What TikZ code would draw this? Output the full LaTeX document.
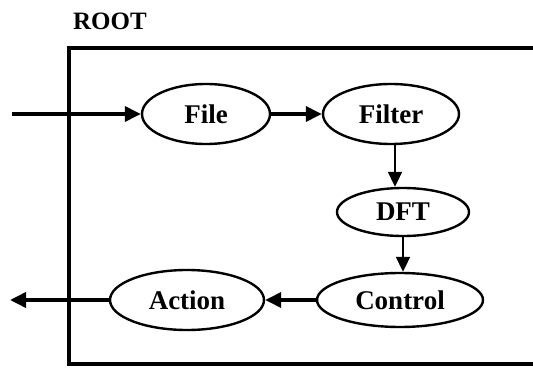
\documentclass[tikz,border=0pt]{standalone}
\usepackage{fontspec}
\setmainfont{Liberation Serif}
\usetikzlibrary{shapes.geometric,arrows.meta}
\begin{document}
\begin{tikzpicture}[x=1pt,y=-1pt,
  proc/.style={draw,ellipse,line width=2.4pt,minimum width=#1,minimum height=60pt,inner sep=0pt,font=\fontsize{27}{29}\selectfont\bfseries},
  flow/.style={line width=3.6pt,-{Triangle[length=16pt,width=15pt]}},
  vflow/.style={line width=2pt,-{Triangle[length=15pt,width=14pt]}},
  frame/.style={line width=3.6pt}]
\useasboundingbox (0,0) rectangle (533,369);
% enclosing ROOT block, open on the right
\draw[frame] (533,48) -- (69,48) -- (69,364) -- (533,364);
\node[font=\fontsize{25}{27}\selectfont\bfseries] (root) at (110,21) {ROOT};
% processing stages
\node[proc=128pt] (file) at (206,114) {File};
\node[proc=136pt] (filter) at (391,114) {Filter};
\node[proc=132pt,minimum height=48pt] (dft) at (403,212) {DFT};
\node[proc=166pt,minimum height=54pt] (control) at (400,300) {Control};
\node[proc=154pt] (action) at (187,300) {Action};
\coordinate (in) at (12,114);
\coordinate (out) at (10,300);
% connectors
\draw[flow] (in) -- (file);
\draw[flow] (file) -- (filter);
\draw[vflow] (filter.south) ++(4,0) coordinate (fs) -- (fs |- dft.north);
\draw[vflow] (dft) -- (dft |- control.north);
\draw[flow] (control) -- (action);
\draw[flow] (action) -- (out);
\end{tikzpicture}
\end{document}
